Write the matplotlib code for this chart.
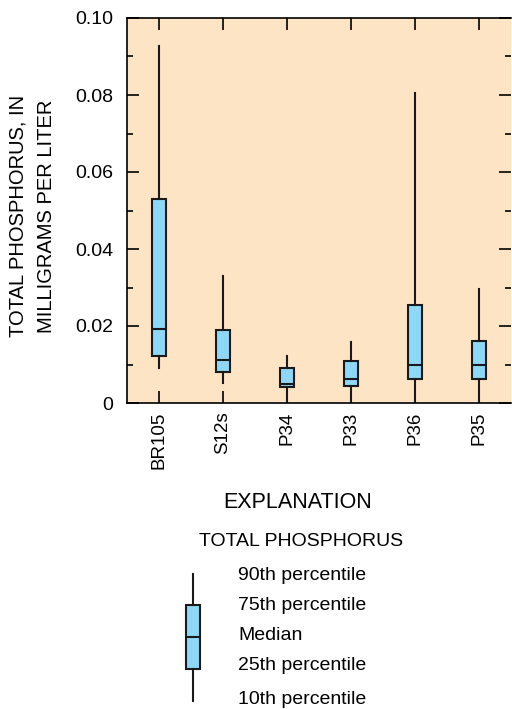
import numpy as np
import matplotlib
matplotlib.use("Agg")
from matplotlib import pyplot as plt
from matplotlib.ticker import MultipleLocator

plt.rcParams['font.family'] = ['Liberation Sans', 'DejaVu Sans']

sites = ["BR105", "S12s", "P34", "P33", "P36", "P35"]
p10 = [0.0091, 0.0052, 0.0, 0.0, 0.0, 0.0]
p25 = [0.0122, 0.0081, 0.0041, 0.0045, 0.0062, 0.0062]
med = [0.0192, 0.0112, 0.0049, 0.0062, 0.0100, 0.0100]
p75 = [0.0530, 0.0190, 0.0091, 0.0110, 0.0255, 0.0160]
p90 = [0.0927, 0.0330, 0.0123, 0.0158, 0.0805, 0.0295]

yticks = [0, 0.02, 0.04, 0.06, 0.08, 0.10]
ytick_labels = ["0", "0.02", "0.04", "0.06", "0.08", "0.10"]

legend_labels = ["90th percentile", "75th percentile", "Median",
                 "25th percentile", "10th percentile"]

bg = "#FDE4C4"
boxc = "#8DD7F7"

fig = plt.figure(figsize=(5.12, 7.09), dpi=100)
ax = fig.add_axes([127/512, 1-403/709, 384/512, 385/709])
ax.set_facecolor(bg)

stats = []
for i in range(len(sites)):
    stats.append(dict(whislo=p10[i], q1=p25[i], med=med[i], q3=p75[i],
                      whishi=p90[i], label=sites[i]))

props = dict(color="#1a1a1a", linewidth=1.5)
ax.bxp(stats, positions=np.arange(1, 7), widths=0.22, patch_artist=True,
       showfliers=False, showcaps=False,
       boxprops=dict(facecolor=boxc, edgecolor="#1a1a1a", linewidth=1.5),
       medianprops=props, whiskerprops=props)

ax.set_xlim(0.5, 6.5)
ax.set_ylim(0, 0.10)
ax.set_yticks(yticks, ytick_labels)
ax.yaxis.set_minor_locator(MultipleLocator(0.01))
ax.tick_params(axis="y", which="major", direction="in", length=8.6, width=1.2,
               left=True, right=True, labelsize=14, pad=10)
ax.tick_params(axis="y", which="minor", direction="in", length=4.3, width=1.2,
               left=True, right=True)
ax.tick_params(axis="x", direction="in", length=8.6, width=1.2, top=True,
               bottom=True, labelsize=13.5, labelrotation=90, pad=6)
for s in ["left", "top", "bottom", "right"]:
    ax.spines[s].set_linewidth(1.2)
ax.spines["right"].set_visible(False)

ax.set_ylabel("TOTAL PHOSPHORUS, IN\nMILLIGRAMS PER LITER", fontsize=14.5,
              linespacing=1.6)
ax.yaxis.set_label_coords(-0.185, 0.485)

# explanation
fig.text(298/512, 1-503/709, "EXPLANATION", ha="center", va="center", fontsize=15.5)
fig.text(301/512, 1-542/709, "TOTAL PHOSPHORUS", ha="center", va="center", fontsize=14)

lax = fig.add_axes([170/512, 1-709/709, 50/512, 150/709])
lax.set_xlim(0, 1)
lax.set_ylim(0, 150)
lax.axis("off")
lstats = [dict(whislo=8, q1=40, med=72, q3=104, whishi=135)]
lax.bxp(lstats, positions=[0.46], widths=0.28, patch_artist=True,
        showfliers=False, showcaps=False,
        boxprops=dict(facecolor=boxc, edgecolor="#1a1a1a", linewidth=1.5),
        medianprops=props, whiskerprops=props)

for lab, yy in zip(legend_labels, [575, 605, 635, 666, 699]):
    fig.text(238/512, 1-yy/709, lab, ha="left", va="center", fontsize=14)

fig.savefig("out.png", dpi=100)
